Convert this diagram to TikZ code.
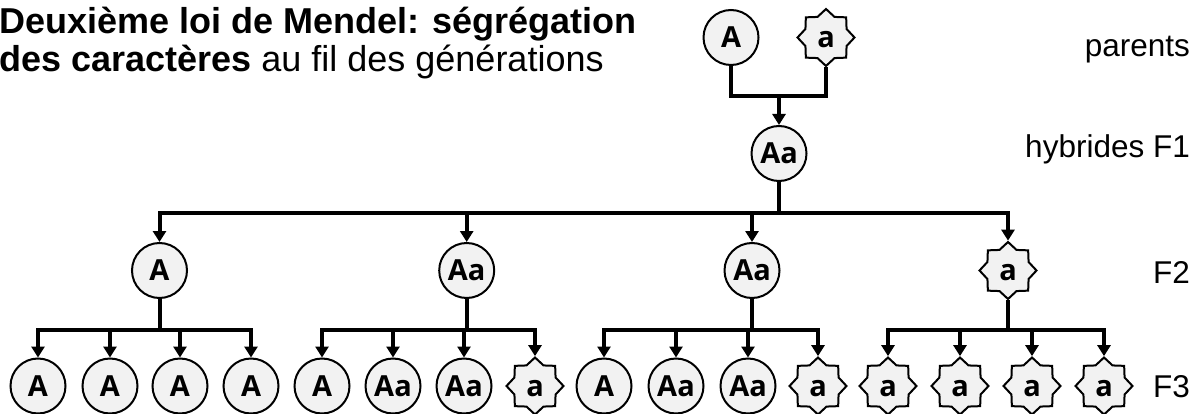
\documentclass[tikz,border=0pt]{standalone}
\usepackage{fontspec}
\setmainfont{Liberation Sans}
\newfontfamily\allelefont{Open Sans}
\usetikzlibrary{arrows.meta,shapes.geometric}
\definecolor{cellgray}{RGB}{242,242,242}

\begin{document}
\begin{tikzpicture}[x=1pt,y=-1pt,
  gene/.style={draw=black,line width=2pt,fill=cellgray,inner sep=0pt,
    text height=20pt,text depth=0pt,
    font=\allelefont\bfseries\fontsize{29}{29}\selectfont},
  dom/.style={gene,circle,minimum size=55pt},
  rec/.style={gene,star,star points=8,star point ratio=1.28,minimum size=57pt},
  link/.style={line width=4pt},
  bar/.style={line width=4pt,line cap=rect},
  arr/.style={line width=4pt,-{Triangle[width=13pt,length=11pt]}},
  lab/.style={anchor=base east,inner sep=0pt,font=\fontsize{31.5}{34}\selectfont}]

\useasboundingbox (0,0) rectangle (1198,414);

% title
\node[anchor=base west,inner sep=0pt,font=\bfseries\fontsize{36}{38}\selectfont]
  (title1) at (-1,33.5) {Deuxième loi de Mendel: ségrégation};
\node[anchor=base west,inner sep=0pt,font=\fontsize{36}{38}\selectfont]
  (title2) at (-1,71.5) {\textbf{des caractères} au fil des générations};

% generation labels
\node[lab] (lparents) at (1190,57) {parents};
\node[lab] (lf1) at (1190,158) {hybrides F1};
\node[lab] (lf2) at (1190,283) {F2};
\node[lab] (lf3) at (1190,397) {F3};

% parents
\node[dom] (pA) at (731,37.5) {A};
\node[rec] (pa) at (826,37.5) {a};

% F1
\node[dom] (h) at (779,153.5) {Aa};

% F2
\node[dom] (s1) at (159.5,270.5) {A};
\node[dom] (s2) at (466.7,270.5) {Aa};
\node[dom] (s3) at (752,270.5) {Aa};
\node[rec] (s4) at (1008,270.5) {a};

% F3
\node[dom] (t1)  at (38,386)   {A};
\node[dom] (t2)  at (110,386)  {A};
\node[dom] (t3)  at (180,386)  {A};
\node[dom] (t4)  at (251,386)  {A};
\node[dom] (t5)  at (322,386)  {A};
\node[dom] (t6)  at (393,386)  {Aa};
\node[dom] (t7)  at (464,386)  {Aa};
\node[rec] (t8)  at (535,386)  {a};
\node[dom] (t9)  at (604,386)  {A};
\node[dom] (t10) at (676,386)  {Aa};
\node[dom] (t11) at (748,386)  {Aa};
\node[rec] (t12) at (818,386)  {a};
\node[rec] (t13) at (888,386)  {a};
\node[rec] (t14) at (960,386)  {a};
\node[rec] (t15) at (1032,386) {a};
\node[rec] (t16) at (1104,386) {a};

% parents -> F1
\draw[link] (pA.south) -- (pA.south |- 0,96) -- (pa.south |- 0,96) -- (pa.south);
\draw[arr] (h.north |- 0,96) -- (h.north);

% F1 -> F2
\draw[link] (h.south) -- (h.south |- 0,212.5);
\draw[bar] (s1.north |- 0,212.5) -- (s4.north |- 0,212.5);
\foreach \kid in {s1,s2,s3,s4}
  \draw[arr] (\kid.north |- 0,212.5) -- (\kid.north);

% F2 -> F3
\foreach \pnode/\first/\last in {s1/1/4, s2/5/8, s3/9/12, s4/13/16}{
  \draw[link] (\pnode.south) -- (\pnode.south |- 0,329.5);
  \draw[bar] (t\first.north |- 0,329.5) -- (t\last.north |- 0,329.5);
  \foreach \k in {\first,...,\last}
    \draw[arr] (t\k.north |- 0,329.5) -- (t\k.north);
}
\end{tikzpicture}
\end{document}
